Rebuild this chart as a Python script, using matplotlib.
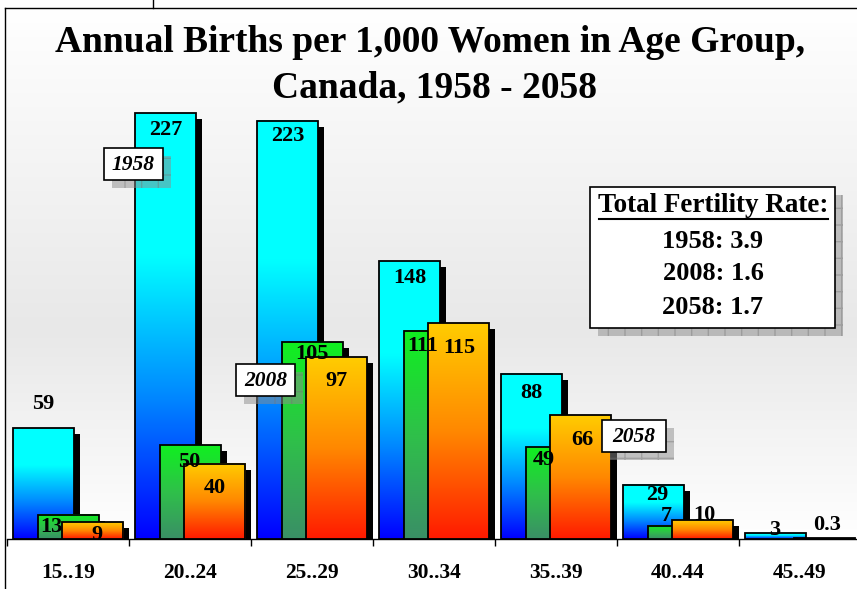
import numpy as np
import matplotlib
matplotlib.use("Agg")
import matplotlib.pyplot as plt
from matplotlib import transforms
from matplotlib.patches import Rectangle
from matplotlib.colors import to_rgb

# data
groups = ['15..19', '20..24', '25..29', '30..34', '35..39', '40..44', '45..49']
rate_1958 = [59, 227, 223, 148, 88, 29, 3]
rate_2008 = [13, 50, 105, 111, 49, 7, 0.2]
rate_2058 = [9, 40, 97, 115, 66, 10, 0.3]
labels_1958 = ['59', '227', '223', '148', '88', '29', '3']
labels_2008 = ['13', '50', '105', '111', '49', '7', '']
labels_2058 = ['9', '40', '97', '115', '66', '10', '0.3']
tfr_years = ['1958', '2008', '2058']
tfr_values = ['3.9', '1.6', '1.7']

# label nudges (dx in px, dy in data units)
dx_1958 = [0, 0, 0, 0, 0, 4, -1]
dy_1958 = [13, -9, -8, -9, -10, -5.8, 2]
dx_2008 = [-17, -1, 0, -11, -12, -12, 0]
dy_2008 = [-6.6, -9, -6.4, -8, -7, 5.2, 0]
dx_2058 = [5, 0, 0, 1, 2, 2, 3]
dy_2058 = [-7, -13, -13, -13, -13, 2.8, 7]

W, H = 857, 589
plt.rcParams['font.family'] = ['Liberation Serif', 'DejaVu Serif']
plt.rcParams['font.weight'] = 'bold'

fig = plt.figure(figsize=(W / 100, H / 100), dpi=100)

# background with frame
bg = fig.add_axes([0, 0, 1, 1], zorder=0)
bg.set_xlim(0, W)
bg.set_ylim(H, 0)
bg.axis('off')
ys = np.array([8, 330, 539])
cs = np.array([1.0, 0.91, 1.0])
yy = np.linspace(8, 539, 300)
g = np.interp(yy, ys, cs)
bg.imshow(np.repeat(g[:, None], 3, axis=1)[:, None, :], extent=[5, W, 539, 8],
          aspect='auto', interpolation='bilinear')
bg.set_xlim(0, W)
bg.set_ylim(H, 0)
bg.plot([5, W], [8, 8], color='black', lw=1)
bg.plot([5, 5], [8, H], color='black', lw=1)
bg.plot([153, 153], [0, 8], color='black', lw=1)

ax = fig.add_axes([7 / W, (H - 539) / H, 854 / W, 469 / H], zorder=1)
ax.patch.set_alpha(0)

series = [
    (rate_1958, labels_1958, dx_1958, dy_1958, -0.2, ['#0000ff', '#0088ff', '#00ffff', '#00ffff']),
    (rate_2008, labels_2008, dx_2008, dy_2008, 0.0, ['#3a8f66', '#2fc04a', '#10f020']),
    (rate_2058, labels_2058, dx_2058, dy_2058, 0.2, ['#ff1a00', '#ff8800', '#ffcc00']),
]
width = 0.5
shadow_tr = transforms.offset_copy(ax.transData, fig, x=6, y=-6, units='dots')
z = 2
for vals, labs, dxs, dys, off, stops in series:
    stops = np.array([to_rgb(c) for c in stops])
    t = np.linspace(0, 1, 128)
    pos = np.linspace(0, 1, len(stops))
    grad = np.stack([np.interp(t, pos, stops[:, k]) for k in range(3)], axis=1)[:, None, :]
    for i, v in enumerate(vals):
        x0 = i + off - width / 2
        ax.add_patch(Rectangle((x0, 0), width, v, facecolor='black', edgecolor='none',
                               transform=shadow_tr, zorder=z))
        ax.imshow(grad, extent=[x0, x0 + width, 0, v], origin='lower', aspect='auto',
                  interpolation='bilinear', zorder=z + 1)
        ax.add_patch(Rectangle((x0, 0), width, v, facecolor='none', edgecolor='black',
                               lw=1.3, zorder=z + 2))
    z += 3
for vals, labs, dxs, dys, off, stops in series:
    for i, v in enumerate(vals):
        if labs[i]:
            tr = transforms.offset_copy(ax.transData, fig, x=dxs[i], y=0, units='dots')
            ax.text(i + off, v + dys[i], labs[i], transform=tr, ha='center', va='center',
                    fontsize=16, fontweight='bold', zorder=20)

ax.set_xlim(-0.5, 6.5)
ax.set_ylim(0, 250)
for s in ['top', 'right', 'left']:
    ax.spines[s].set_visible(False)
ax.spines['bottom'].set_linewidth(1)
ax.set_yticks([])
ax.set_xticks(range(len(groups)))
ax.set_xticklabels(groups, fontsize=15.5, fontweight='bold')
ax.tick_params(axis='x', which='major', length=0, pad=17)
ax.set_xticks(np.arange(-0.5, 6.6, 1), minor=True)
ax.tick_params(axis='x', which='minor', length=5, width=1, direction='out')

# overlay in pixel coordinates
ov = fig.add_axes([0, 0, 1, 1], zorder=3)
ov.set_xlim(0, W)
ov.set_ylim(H, 0)
ov.axis('off')
ov.patch.set_alpha(0)

ov.text(430, 42, 'Annual Births per 1,000 Women in Age Group,', ha='center', va='center',
        fontsize=27, fontweight='bold')
ov.text(435, 88, 'Canada, 1958 - 2058', ha='center', va='center', fontsize=27, fontweight='bold')


def box(x0, y0, x1, y1, sh=8):
    ov.add_patch(Rectangle((x0 + sh, y0 + sh), x1 - x0, y1 - y0, facecolor=(0.55, 0.55, 0.55, 0.5),
                           edgecolor=(0.45, 0.45, 0.45, 0.4), hatch='+', lw=0))
    ov.add_patch(Rectangle((x0, y0), x1 - x0, y1 - y0, facecolor='white', edgecolor='black', lw=1.2))


# series tags
tag_boxes = [(104, 148, 163, 180), (236, 364, 295, 396), (602, 420, 666, 452)]
for yr, (x0, y0, x1, y1) in zip(tfr_years, tag_boxes):
    box(x0, y0, x1, y1)
    ov.text((x0 + x1) / 2, (y0 + y1) / 2 + 1, yr, ha='center', va='center', fontsize=15.5,
            fontweight='bold', style='italic')

# total fertility rate box
box(590, 187, 835, 328)
ov.text(713, 206, 'Total Fertility Rate:', ha='center', va='center', fontsize=19.5, fontweight='bold')
ov.plot([599, 828], [219, 219], color='black', lw=1.5)
for k, (yr, v) in enumerate(zip(tfr_years, tfr_values)):
    ov.text(713, 241 + 33 * k, f'{yr}: {v}', ha='center', va='center', fontsize=19, fontweight='bold')

fig.savefig('out.png', dpi=100)
